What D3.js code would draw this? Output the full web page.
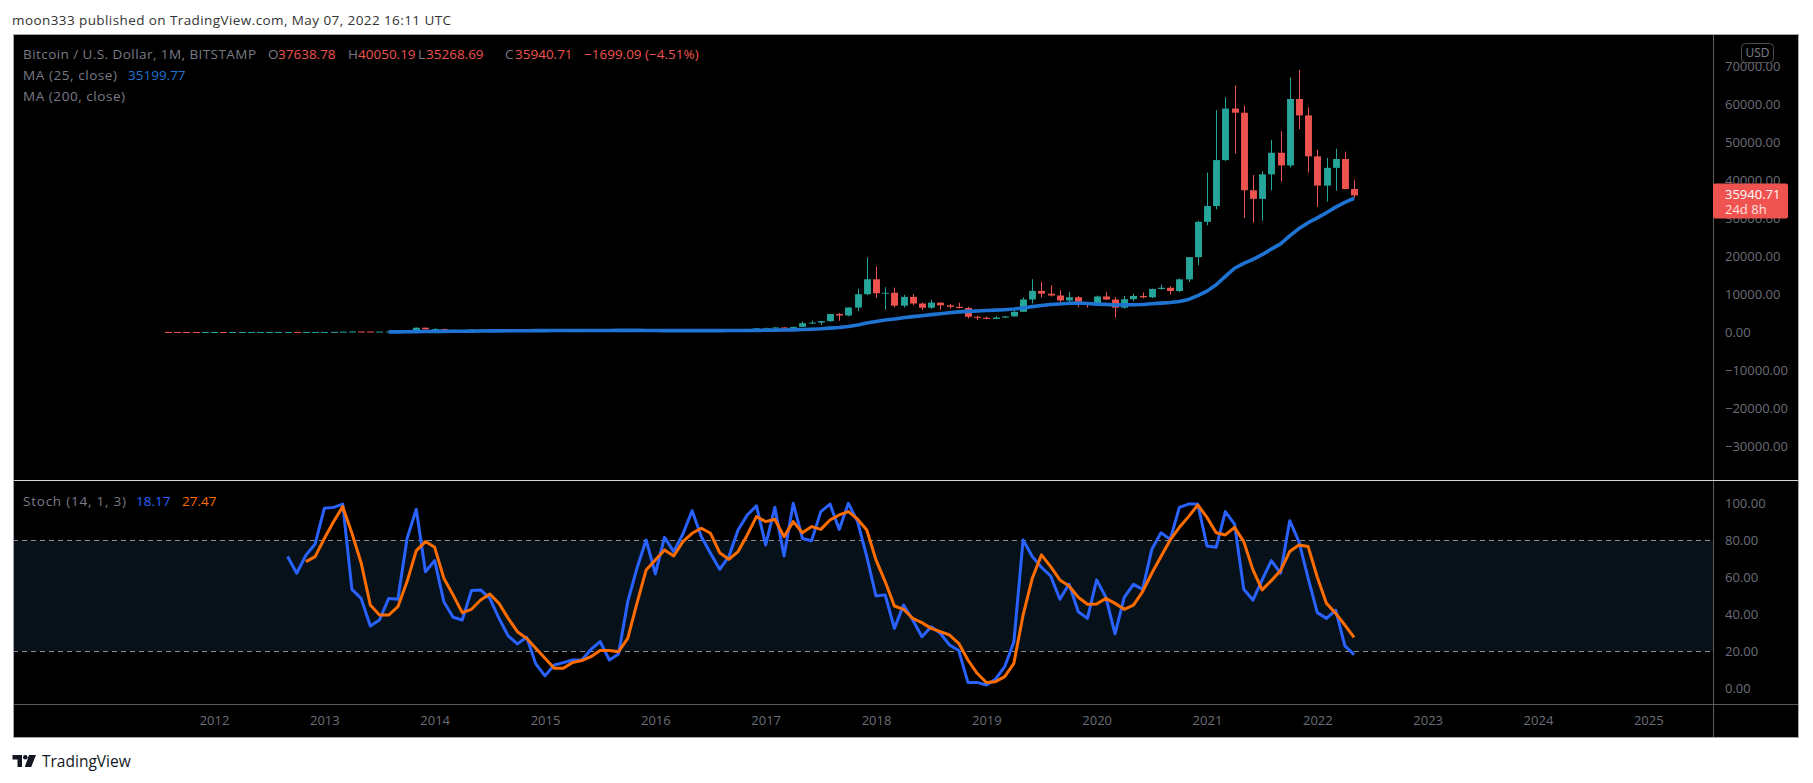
<!DOCTYPE html>
<html><head><meta charset="utf-8">
<script src="https://cdn.jsdelivr.net/npm/d3@7/dist/d3.min.js"></script>
<style>
html,body{margin:0;padding:0;background:#fff;}
svg{display:block;}
text{font-family:"Open Sans","Lato","Liberation Sans",sans-serif;}
</style></head>
<body>
<svg id="chart" width="1813" height="783"></svg>
<script>
// ---------- DATA (monthly, BITSTAMP BTC/USD) ----------
const months = [
 "2011-08","2011-09","2011-10","2011-11","2011-12",
 "2012-01","2012-02","2012-03","2012-04","2012-05","2012-06","2012-07","2012-08","2012-09","2012-10","2012-11","2012-12",
 "2013-01","2013-02","2013-03","2013-04","2013-05","2013-06","2013-07","2013-08","2013-09","2013-10","2013-11","2013-12",
 "2014-01","2014-02","2014-03","2014-04","2014-05","2014-06","2014-07","2014-08","2014-09","2014-10","2014-11","2014-12",
 "2015-01","2015-02","2015-03","2015-04","2015-05","2015-06","2015-07","2015-08","2015-09","2015-10","2015-11","2015-12",
 "2016-01","2016-02","2016-03","2016-04","2016-05","2016-06","2016-07","2016-08","2016-09","2016-10","2016-11","2016-12",
 "2017-01","2017-02","2017-03","2017-04","2017-05","2017-06","2017-07","2017-08","2017-09","2017-10","2017-11","2017-12",
 "2018-01","2018-02","2018-03","2018-04","2018-05","2018-06","2018-07","2018-08","2018-09","2018-10","2018-11","2018-12",
 "2019-01","2019-02","2019-03","2019-04","2019-05","2019-06","2019-07","2019-08","2019-09","2019-10","2019-11","2019-12",
 "2020-01","2020-02","2020-03","2020-04","2020-05","2020-06","2020-07","2020-08","2020-09","2020-10","2020-11","2020-12",
 "2021-01","2021-02","2021-03","2021-04","2021-05","2021-06","2021-07","2021-08","2021-09","2021-10","2021-11","2021-12",
 "2022-01","2022-02","2022-03","2022-04","2022-05"];
const open = [
 10.9,8.2,5.1,3.25,3.0,
 4.7,5.5,4.9,4.9,5.0,5.2,6.7,9.3,10.2,12.4,11.2,12.6,
 13.5,20.4,33.4,93,139,128,97,106,135,127,204,1130,
 732,800,550,445,447,625,635,586,480,390,338,378,
 320,218,254,244,236,230,263,284,230,236,312,377,
 430,368,437,416,448,531,673,622,574,608,698,740,
 964,965,1190,1080,1350,2300,2480,2860,4730,4340,6440,9950,
 13880,10200,10330,6930,9240,7490,6390,7730,7020,6630,6320,4010,
 3740,3440,3810,4100,5320,8560,10810,10080,9600,8300,9150,7570,
 7190,9350,8540,6410,8630,9480,9140,11330,11640,10780,13850,19703.7,
 28990,33140,45240,58800,57700,37300,35050,41490,47160,43830,61320,57000,
 46230,38520,43200,45520,37638.78];
const high = [
 13.3,8.9,5.4,3.6,4.8,
 7.2,6.3,5.5,5.3,5.3,6.7,9.5,15.4,12.8,12.6,12.6,13.8,
 20.9,33.4,95,266,140,130,110,135,145,220,1163,1163,
 1000,860,710,545,630,680,650,600,500,410,455,410,
 320,265,300,260,245,268,317,287,260,330,500,465,
 462,447,442,470,550,779,685,624,612,730,754,975,
 1149,1200,1280,1370,2760,2980,2920,4750,4980,6470,11400,19666,
 17180,11790,11670,9760,9980,7770,8500,7760,7410,7680,6600,4300,
 4100,4200,4140,5600,9080,13880,13200,12330,10950,10540,9500,7750,
 9580,10500,9190,9460,10070,10390,11450,12470,12070,14100,19480,29300,
 41950,58350,61780,64900,59600,41300,42300,50500,52850,67000,69000,59100,
 47950,45800,48200,47450,40050.19];
const low = [
 7.0,4.5,2.1,2.0,2.9,
 4.7,4.3,4.6,4.8,4.9,5.2,6.5,7.1,10.2,9.9,10.3,12.6,
 13.2,19.1,33,50,79,70,66,100,110,103,195,375,
 732,400,438,340,425,555,565,445,370,275,320,300,
 152,206,236,213,225,216,252,162,225,235,300,345,
 351,365,397,412,436,512,505,460,565,604,676,740,
 750,915,890,1060,1340,2100,1840,2670,2970,4100,5500,9700,
 9000,5900,6450,6430,7050,5780,6080,5880,6120,6200,3550,3130,
 3370,3380,3680,4080,5300,7510,9060,9320,7730,7300,6520,6430,
 6870,8450,3850,6150,8110,8850,8920,11100,9880,10530,13200,17600,
 28100,32300,45000,47000,30000,28800,29300,37300,39600,43300,53400,42000,
 32900,34300,37200,37600,35268.69];
const close = [
 8.2,5.1,3.25,3.0,4.7,
 5.5,4.9,4.9,5.0,5.2,6.7,9.3,10.2,12.4,11.2,12.6,13.5,
 20.4,33.4,93,139,128,97,106,135,127,204,1130,732,
 800,550,445,447,625,635,586,480,390,338,378,320,
 218,254,244,236,230,263,284,230,236,312,377,430,
 368,437,416,448,531,673,622,574,608,698,740,964,
 965,1190,1080,1350,2300,2480,2860,4730,4340,6440,9950,13880,
 10200,10330,6930,9240,7490,6390,7730,7020,6630,6320,4010,3740,
 3440,3810,4100,5320,8560,10810,10080,9600,8300,9150,7570,7190,
 9350,8540,6410,8630,9480,9140,11330,11640,10780,13850,19703.7,28990,
 33140,45240,58800,57700,37300,35050,41490,47160,43830,61320,57000,46230,
 38520,43200,45520,37639.80,35940.71];

// Stochastic (14,1,3): %K from 2012-09, %D from 2012-11
const stochKStart = "2012-09";
const stochK = [71.2,62.2,72,78,97.3,97.8,99.6,53.5,48.6,33.7,36.9,48.6,48.1,81,96.8,63,69,46.8,38.4,36.9,
 52.8,53.2,48.6,37.8,28.3,24,27.6,13.2,6.7,12.6,13.9,15.3,15.3,21,25.2,15.3,18.6,46.8,64.9,80.2,
 61.8,81.6,73.9,83.4,96,82,73,64.3,71.2,85.6,93.7,98.6,77.5,97.8,71.5,100,81,79.8,95.5,99.6,
 85.9,100,90.1,71.2,49.9,50.5,32.4,45,36.9,27.9,33.3,29.7,23.4,20.4,3.2,3.2,1.8,4.9,11.7,25.2,
 80.2,71.2,65.4,60.7,48.1,56.4,41.4,37.8,58.6,49.2,29.4,49.2,56.2,53.5,75.1,84.1,80.5,97.8,99.6,99.6,
 76.9,76.2,95.5,88.8,53.5,47.7,58.6,69,62.2,90.6,79.3,59.5,40.9,37.8,42.3,22.9,18.17];
const stochDStart = "2012-11";
const stochD = [68.5,71.2,81,90,98.2,83.8,67.9,45,39.6,39.6,44.1,57.7,74.4,79.3,76.2,59.5,50.5,40.9,
 42.7,47.7,51,45.9,37.8,30.6,27,21.6,16.2,10.8,10.8,13.9,15,17.1,20.4,20.4,19.8,27,45.9,64,
 69.4,74.8,71.5,79.3,83.8,86.5,83.8,73.3,69.7,73.9,82.9,92.8,90.1,91.4,82,90.1,84.1,87.4,85.9,91,
 93.7,95.5,91.4,85.6,69.4,57.7,44.5,42.7,37.8,35.5,32.4,30.6,28.8,24.3,15.3,8.1,3.1,3.6,6.3,13.5,
 39.6,59.5,72.1,65.8,58.6,55.3,49.2,45.4,45.6,48.6,45.9,42.7,45,52.3,62.2,71.2,80.2,87,92.8,99.1,
 92.4,84.1,82.9,87,79.3,64,53.2,58.2,63.6,73.9,77.5,76.6,60,45.9,40.5,34.2,27.47];

const maLength = 25;
const priceTicks = [70000,60000,50000,40000,30000,20000,10000,0,-10000,-20000,-30000];
const stochTicks = [100,80,60,40,20,0];
const stochBands = [80,20];
const yearTicks = [2012,2013,2014,2015,2016,2017,2018,2019,2020,2021,2022,2023,2024,2025];

// ---------- LAYOUT ----------
const W = 1813, H = 783;
const F = {l:13, r:1799, t:34, b:738};
const axisX = 1713, sepY = 480, timeY = 704;
const C = {up:"#26a69a", down:"#ef5350", ma:"#1f74d3", k:"#2962ff", d:"#ff6d00",
           txt:"#787b86", axisTxt:"#6b6e78"};

const svg = d3.select("#chart");
const toYear = s => { const [y,m] = s.split("-").map(Number); return y + (m-1)/12; };

const x = d3.scaleLinear().domain([2012, 2025]).range([214, 1648.3]);
const yP = d3.scaleLinear().domain([0, 70000]).range([332, 66]);
const yS = d3.scaleLinear().domain([0, 100]).range([688.3, 503.3]);

const bars = months.map((m,i)=>({t:toYear(m), o:open[i], h:high[i], l:low[i], c:close[i]}));
// MA(25) of close
const ma = [];
for (let i = maLength-1; i < close.length; i++) {
  ma.push({t: bars[i].t, v: d3.mean(close.slice(i-maLength+1, i+1))});
}
const kStartIdx = months.indexOf(stochKStart), dStartIdx = months.indexOf(stochDStart);
const kData = stochK.map((v,i)=>({t:bars[kStartIdx+i].t, v}));
const dData = stochD.map((v,i)=>({t:bars[dStartIdx+i].t, v}));

// background
svg.append("rect").attr("width",W).attr("height",H).attr("fill","#fff");
svg.append("rect").attr("x",F.l).attr("y",F.t).attr("width",F.r-F.l).attr("height",F.b-F.t).attr("fill","#000");

// header
svg.append("text").attr("x",12).attr("y",25).attr("font-size",13.5).attr("fill","#333")
  .attr("textLength",439).attr("lengthAdjust","spacing")
  .text("moon333 published on TradingView.com, May 07, 2022 16:11 UTC");

// clips
const defs = svg.append("defs");
defs.append("clipPath").attr("id","cp").append("rect").attr("x",F.l).attr("y",F.t).attr("width",axisX-F.l).attr("height",sepY-F.t);
defs.append("clipPath").attr("id","cs").append("rect").attr("x",F.l).attr("y",sepY+1).attr("width",axisX-F.l).attr("height",timeY-sepY-1);

// ---------- PRICE PANE ----------
const gp = svg.append("g").attr("clip-path","url(#cp)");
const bw = (x(2013)-x(2012))/12*0.75;
const cg = gp.selectAll("g.c").data(bars).join("g");
cg.append("line")
  .attr("x1",d=>Math.round(x(d.t))+0.5).attr("x2",d=>Math.round(x(d.t))+0.5)
  .attr("y1",d=>yP(d.h)).attr("y2",d=>yP(d.l))
  .attr("stroke",d=>d.c>=d.o?C.up:C.down).attr("stroke-width",1);
cg.append("rect")
  .attr("x",d=>Math.round(x(d.t))+0.5-bw/2).attr("width",bw)
  .attr("y",d=>Math.min(yP(d.o),yP(d.c)))
  .attr("height",d=>Math.max(1,Math.abs(yP(d.o)-yP(d.c))))
  .attr("fill",d=>d.c>=d.o?C.up:C.down);

gp.append("path").datum(ma)
  .attr("fill","none").attr("stroke",C.ma).attr("stroke-width",3.6).attr("stroke-linejoin","round")
  .attr("d",d3.line().x(d=>x(d.t)).y(d=>yP(d.v)));

// ---------- STOCH PANE ----------
const gs = svg.append("g").attr("clip-path","url(#cs)");
gs.append("rect").attr("x",F.l).attr("width",axisX-F.l)
  .attr("y",yS(stochBands[0])).attr("height",yS(stochBands[1])-yS(stochBands[0]))
  .attr("fill","#06111a");
gs.selectAll("line.band").data(stochBands).join("line")
  .attr("x1",F.l).attr("x2",axisX).attr("y1",d=>Math.round(yS(d))+0.5).attr("y2",d=>Math.round(yS(d))+0.5)
  .attr("stroke","#8a8d96").attr("stroke-width",1).attr("stroke-dasharray","5,4");
const sl = d3.line().x(d=>x(d.t)).y(d=>yS(d.v));
gs.append("path").datum(kData).attr("fill","none").attr("stroke",C.k).attr("stroke-width",3)
  .attr("stroke-linejoin","round").attr("d",sl);
gs.append("path").datum(dData).attr("fill","none").attr("stroke",C.d).attr("stroke-width",3)
  .attr("stroke-linejoin","round").attr("d",sl);

// ---------- AXES ----------
const fmt = v => (v<0?"\u2212":"") + Math.abs(v).toFixed(2);
const pa = svg.append("g").attr("transform",`translate(${axisX},0)`)
  .call(d3.axisRight(yP).tickValues(priceTicks).tickSize(0).tickPadding(12).tickFormat(fmt));
const sa = svg.append("g").attr("transform",`translate(${axisX},0)`)
  .call(d3.axisRight(yS).tickValues(stochTicks).tickSize(0).tickPadding(12).tickFormat(fmt));
const ta = svg.append("g").attr("transform",`translate(0,${timeY})`)
  .call(d3.axisBottom(x).tickValues(yearTicks).tickSize(0).tickPadding(12).tickFormat(d3.format("d")));
[pa,sa,ta].forEach(g=>{
  g.select(".domain").remove();
  g.selectAll("text").attr("fill",C.axisTxt).attr("font-size",13)
   .attr("font-family",'"Lato","Open Sans",sans-serif');
});

// separators & frame
svg.append("line").attr("x1",axisX+0.5).attr("x2",axisX+0.5).attr("y1",F.t).attr("y2",F.b).attr("stroke","#5d5d5d");
svg.append("line").attr("x1",F.l).attr("x2",F.r).attr("y1",sepY+0.5).attr("y2",sepY+0.5).attr("stroke","#d6d6d6");
svg.append("line").attr("x1",F.l).attr("x2",F.r).attr("y1",timeY+0.5).attr("y2",timeY+0.5).attr("stroke","#5d5d5d");
svg.append("rect").attr("x",F.l+0.5).attr("y",F.t+0.5).attr("width",F.r-F.l-1).attr("height",F.b-F.t-1)
  .attr("fill","none").attr("stroke","#a3a6af");

// USD box
svg.append("rect").attr("x",1741.5).attr("y",43.5).attr("width",32).attr("height",19).attr("rx",4)
  .attr("fill","#000").attr("stroke","#4a4c52");
svg.append("text").attr("x",1757.5).attr("y",57).attr("text-anchor","middle").attr("font-size",12)
  .attr("font-family",'"Lato",sans-serif').attr("fill","#7d808a").text("USD");

// current price label
const last = bars[bars.length-1];
const prevClose = close[close.length-2];
const ly = yP(last.c);
svg.append("rect").attr("x",axisX).attr("y",ly-12).attr("width",75).attr("height",35).attr("rx",2)
  .attr("fill","#ef5350");
svg.append("text").attr("x",1725).attr("y",ly+4).attr("font-size",13).attr("font-family",'"Lato",sans-serif')
  .attr("fill","#fff").text(last.c.toFixed(2));
svg.append("text").attr("x",1725).attr("y",ly+19).attr("font-size",13).attr("font-family",'"Lato",sans-serif')
  .attr("fill","#fde0df").text("24d 8h");

// ---------- LEGENDS ----------
// parts: [x, text, colour, optional fitted width]
function legend(y, parts){
  parts.forEach(p=>{
    const t = svg.append("text").attr("x",p[0]).attr("y",y).attr("font-size",13.5)
      .attr("fill",p[2]).text(p[1]);
    if (p[3]) t.attr("textLength",p[3]).attr("lengthAdjust","spacing");
  });
}
const chg = last.c - prevClose;
legend(59, [[23,"Bitcoin / U.S. Dollar, 1M, BITSTAMP",C.txt,233],
  [268,"O",C.txt],[278,last.o.toFixed(2),C.down],
  [348,"H",C.txt],[358,last.h.toFixed(2),C.down],
  [418,"L",C.txt],[426,last.l.toFixed(2),C.down],
  [505,"C",C.txt],[515,last.c.toFixed(2),C.down],
  [584,"\u2212"+Math.abs(chg).toFixed(2)+" (\u2212"+Math.abs(chg/prevClose*100).toFixed(2)+"%)",C.down]]);
legend(80, [[23,"MA (25, close)",C.txt,94],[128,ma[ma.length-1].v.toFixed(2),C.ma]]);
legend(101, [[23,"MA (200, close)",C.txt,102]]);
legend(506, [[23,"Stoch (14, 1, 3)",C.txt,103],[136,stochK[stochK.length-1].toFixed(2),C.k],
  [182,stochD[stochD.length-1].toFixed(2),C.d]]);

// ---------- FOOTER LOGO ----------
const lg = svg.append("g").attr("fill","#131722");
lg.append("path").attr("d","M12.5,755 H22 V767 H17.5 V759.5 H12.5 Z");
lg.append("circle").attr("cx",25.3).attr("cy",757.3).attr("r",2.3);
lg.append("path").attr("d","M29,755 H36 L31.2,767 H24.8 Z");
svg.append("text").attr("x",42).attr("y",767).attr("font-size",15.5).attr("fill","#131722").text("TradingView");
</script>
</body></html>
